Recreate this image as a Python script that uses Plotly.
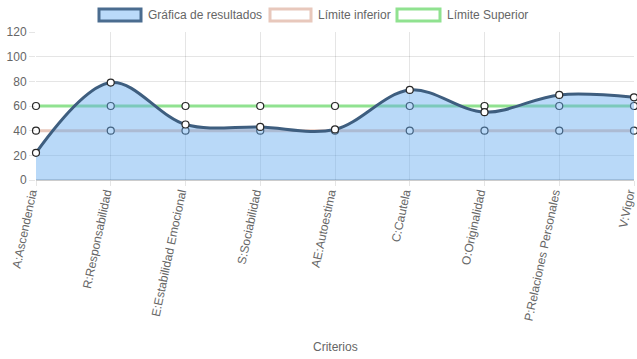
import plotly.graph_objects as go

categories = ["A:Ascendencia", "R:Responsabilidad", "E:Estabilidad Emocional",
              "S:Sociabilidad", "AE:Autoestima", "C:Cautela", "O:Originalidad",
              "P:Relaciones Personales", "V:Vigor"]
resultados = [22, 79, 45, 43, 41, 73, 55, 69, 67]
limite_inferior = [40] * 9
limite_superior = [60] * 9
y_ticks = [0, 20, 40, 60, 80, 100, 120]
x_title = "Criterios"

x = list(range(len(categories)))
font = "Liberation Sans, Arial, Helvetica, sans-serif"
mk = dict(size=7, color="white", line=dict(color="rgb(40,40,40)", width=1.2))

fig = go.Figure()
fig.add_trace(go.Scatter(
    x=x, y=limite_inferior, name="Límite inferior", mode="lines+markers",
    line=dict(color="rgb(232,200,188)", width=3), marker=mk, cliponaxis=False))
fig.add_trace(go.Scatter(
    x=x, y=limite_superior, name="Límite Superior", mode="lines+markers",
    line=dict(color="rgb(144,226,144)", width=3), marker=mk, cliponaxis=False))
fig.add_trace(go.Scatter(
    x=x, y=resultados, name="Gráfica de resultados", mode="lines",
    fill="tozeroy", fillcolor="rgba(100,170,240,0.45)", cliponaxis=False,
    line=dict(color="rgb(62,94,127)", width=3, shape="spline", smoothing=1.0)))
fig.add_trace(go.Scatter(
    x=x, y=resultados, mode="markers", showlegend=False, marker=mk, cliponaxis=False))

L, R, T, B = 36, 3, 32, 179
W, H = 637, 359
pw, ph = W - L - R, H - T - B


def px(xp):
    return (xp - L) / pw


def py(yp):
    return (H - B - yp) / ph


legend_items = [
    (99, 141, "Gráfica de resultados", "rgb(186,218,250)", "rgb(74,108,143)"),
    (270, 311, "Límite inferior", "white", "rgb(232,200,188)"),
    (397, 440, "Límite Superior", "white", "rgb(144,226,144)"),
]
shapes = []
annotations = []
for x0, x1, label, fc, lc in legend_items:
    shapes.append(dict(type="rect", xref="paper", yref="paper",
                       x0=px(x0), x1=px(x1), y0=py(21), y1=py(9),
                       fillcolor=fc, line=dict(color=lc, width=3)))
    annotations.append(dict(xref="paper", yref="paper", x=px(x1 + 5), y=py(15),
                            text=label, showarrow=False, xanchor="left", yanchor="middle",
                            font=dict(family=font, size=12, color="#666")))
annotations.append(dict(xref="paper", yref="paper", x=0.5, y=py(347), text=x_title,
                        showarrow=False, xanchor="center", yanchor="middle",
                        font=dict(family=font, size=12, color="#666")))

fig.update_layout(
    width=W, height=H, margin=dict(l=L, r=R, t=T, b=B),
    paper_bgcolor="white", plot_bgcolor="white", showlegend=False,
    font=dict(family=font, size=12, color="#666"),
    shapes=shapes, annotations=annotations,
    xaxis=dict(range=[0, len(categories) - 1], tickvals=x, ticktext=categories,
               tickangle=-78, showgrid=True, gridcolor="rgba(0,0,0,0.1)",
               ticks="outside", ticklen=5, tickcolor="rgba(0,0,0,0.1)",
               ticklabelstandoff=-5, ticklabelshift=-5, ticklabeloverflow="allow",
               zeroline=False, showline=False, automargin=False,
               tickfont=dict(size=12, color="#666")),
    yaxis=dict(range=[0, 120], tickvals=y_ticks, showgrid=True, automargin=False,
               gridcolor="rgba(0,0,0,0.1)", ticks="outside", ticklen=6,
               tickcolor="rgba(0,0,0,0.1)", zeroline=True, zerolinecolor="rgba(0,0,0,0.2)",
               zerolinewidth=2, showline=False, tickfont=dict(size=12, color="#666")),
)

fig.write_html("out.html", config={"displayModeBar": False},
               post_script="document.body.style.margin='0';document.body.style.overflow='hidden';")
